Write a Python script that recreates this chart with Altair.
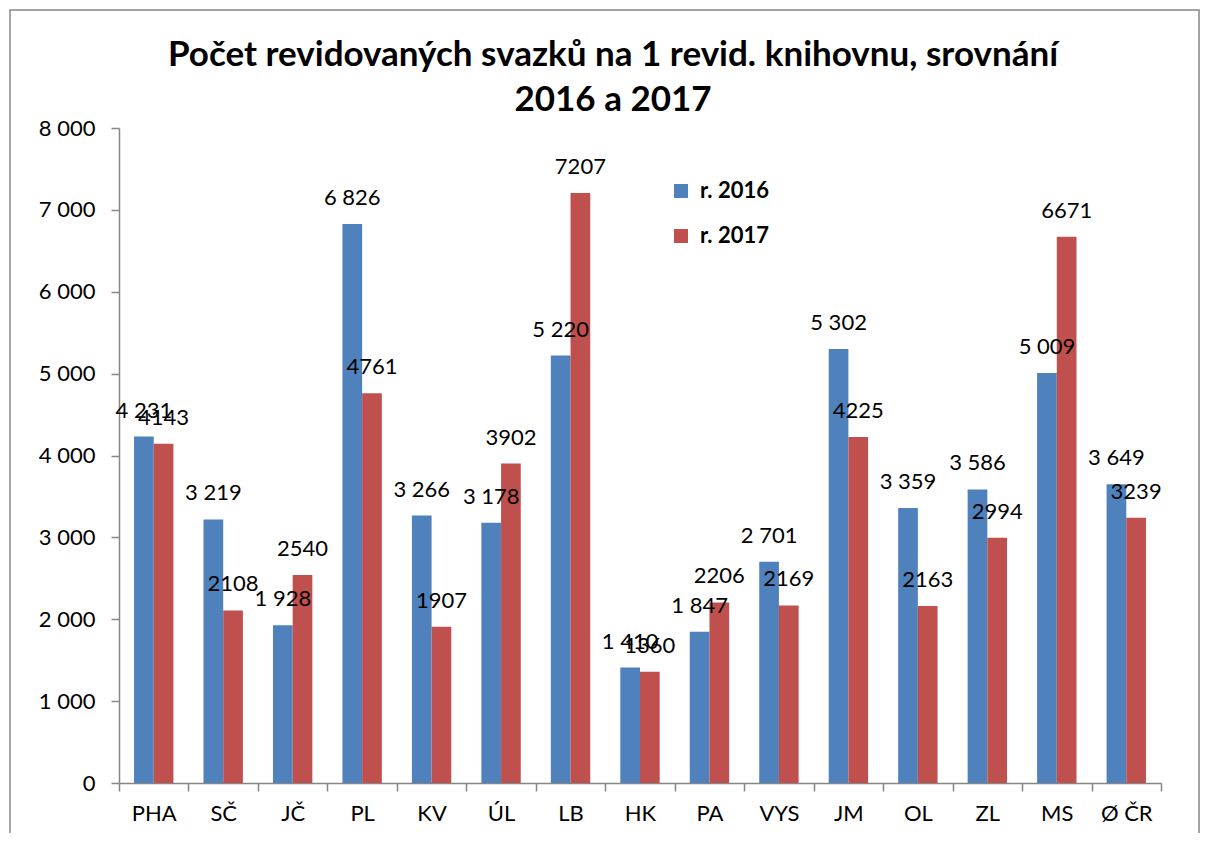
import altair as alt
import pandas as pd

categories = ["PHA", "SČ", "JČ", "PL", "KV", "ÚL", "LB", "HK", "PA", "VYS", "JM", "OL", "ZL", "MS", "Ø ČR"]
values_2016 = [4231, 3219, 1928, 6826, 3266, 3178, 5220, 1410, 1847, 2701, 5302, 3359, 3586, 5009, 3649]
values_2017 = [4143, 2108, 2540, 4761, 1907, 3902, 7207, 1360, 2206, 2169, 4225, 2163, 2994, 6671, 3239]
series = ["r. 2016", "r. 2017"]
y_ticks = [0, 1000, 2000, 3000, 4000, 5000, 6000, 7000, 8000]
title_lines = ["Počet revidovaných svazků na 1 revid. knihovnu, srovnání", "2016 a 2017"]
colors = ["#4F81BD", "#C0504D"]

rows = []
for c, a, b in zip(categories, values_2016, values_2017):
    rows.append({"kraj": c, "rok": series[0], "hodnota": a, "popis": f"{a:,}".replace(",", " ")})
    rows.append({"kraj": c, "rok": series[1], "hodnota": b, "popis": str(b)})
df = pd.DataFrame(rows)

FONT = "Lato"
GRAY = "#868686"

x_enc = alt.X("kraj:N", sort=categories, title=None,
              scale=alt.Scale(paddingInner=0, paddingOuter=0),
              axis=alt.Axis(labelAngle=0, labelFontSize=22, labelFont=FONT, labelColor="black",
                            domainColor=GRAY, domainWidth=1.5, tickColor=GRAY, tickWidth=1.5,
                            tickSize=8, tickBand="extent", labelPadding=12))
xoff_enc = alt.XOffset("rok:N", sort=series, scale=alt.Scale(paddingInner=0, paddingOuter=0.764))
y_enc = alt.Y("hodnota:Q", title=None,
              scale=alt.Scale(domain=[0, 8000], nice=False),
              axis=alt.Axis(values=y_ticks, grid=False, labelFontSize=22, labelFont=FONT,
                            labelColor="black", domainColor=GRAY, domainWidth=1.5,
                            tickColor=GRAY, tickWidth=1.5, tickSize=8, labelPadding=16,
                            labelExpr="replace(format(datum.value, ','), ',', ' ')"))

base = alt.Chart(df)

bars = base.mark_bar().encode(
    x=x_enc,
    xOffset=xoff_enc,
    y=y_enc,
    color=alt.Color("rok:N", sort=series, scale=alt.Scale(domain=series, range=colors),
                    legend=alt.Legend(title=None, orient="none", legendX=551, legendY=52,
                                      symbolType="square", symbolSize=196, symbolStrokeWidth=0,
                                      labelFontSize=22, labelFont=FONT, labelFontWeight="bold",
                                      labelColor="black", rowPadding=23, labelOffset=8, padding=0)),
)

labels = base.mark_text(fontSize=22, font=FONT, color="black", baseline="alphabetic", dy=-19).encode(
    x=alt.X("kraj:N", sort=categories),
    xOffset=alt.XOffset("rok:N", sort=series),
    y=alt.Y("hodnota:Q"),
    text="popis:N",
)

frame = alt.Chart(pd.DataFrame({"f": [1]})).mark_rect(
    fillOpacity=0, stroke=GRAY, strokeWidth=1.5, clip=False
).encode(
    x=alt.value(-109), x2=alt.value(1080), y=alt.value(-118), y2=alt.value(740)
)

chart = alt.layer(frame, bars, labels).properties(
    width=1042,
    height=655,
    autosize=alt.AutoSizeParams(type="none"),
    padding={"left": 111, "top": 120, "right": 39, "bottom": 50},
    title=alt.Title(title_lines, fontSize=35, font=FONT, fontWeight="bold", color="black",
                    anchor="middle", dx=-27, lineHeight=45, baseline="bottom", offset=-144),
).configure_view(stroke=None)

chart.save("out.html", embed_options={"renderer": "svg", "actions": False})
